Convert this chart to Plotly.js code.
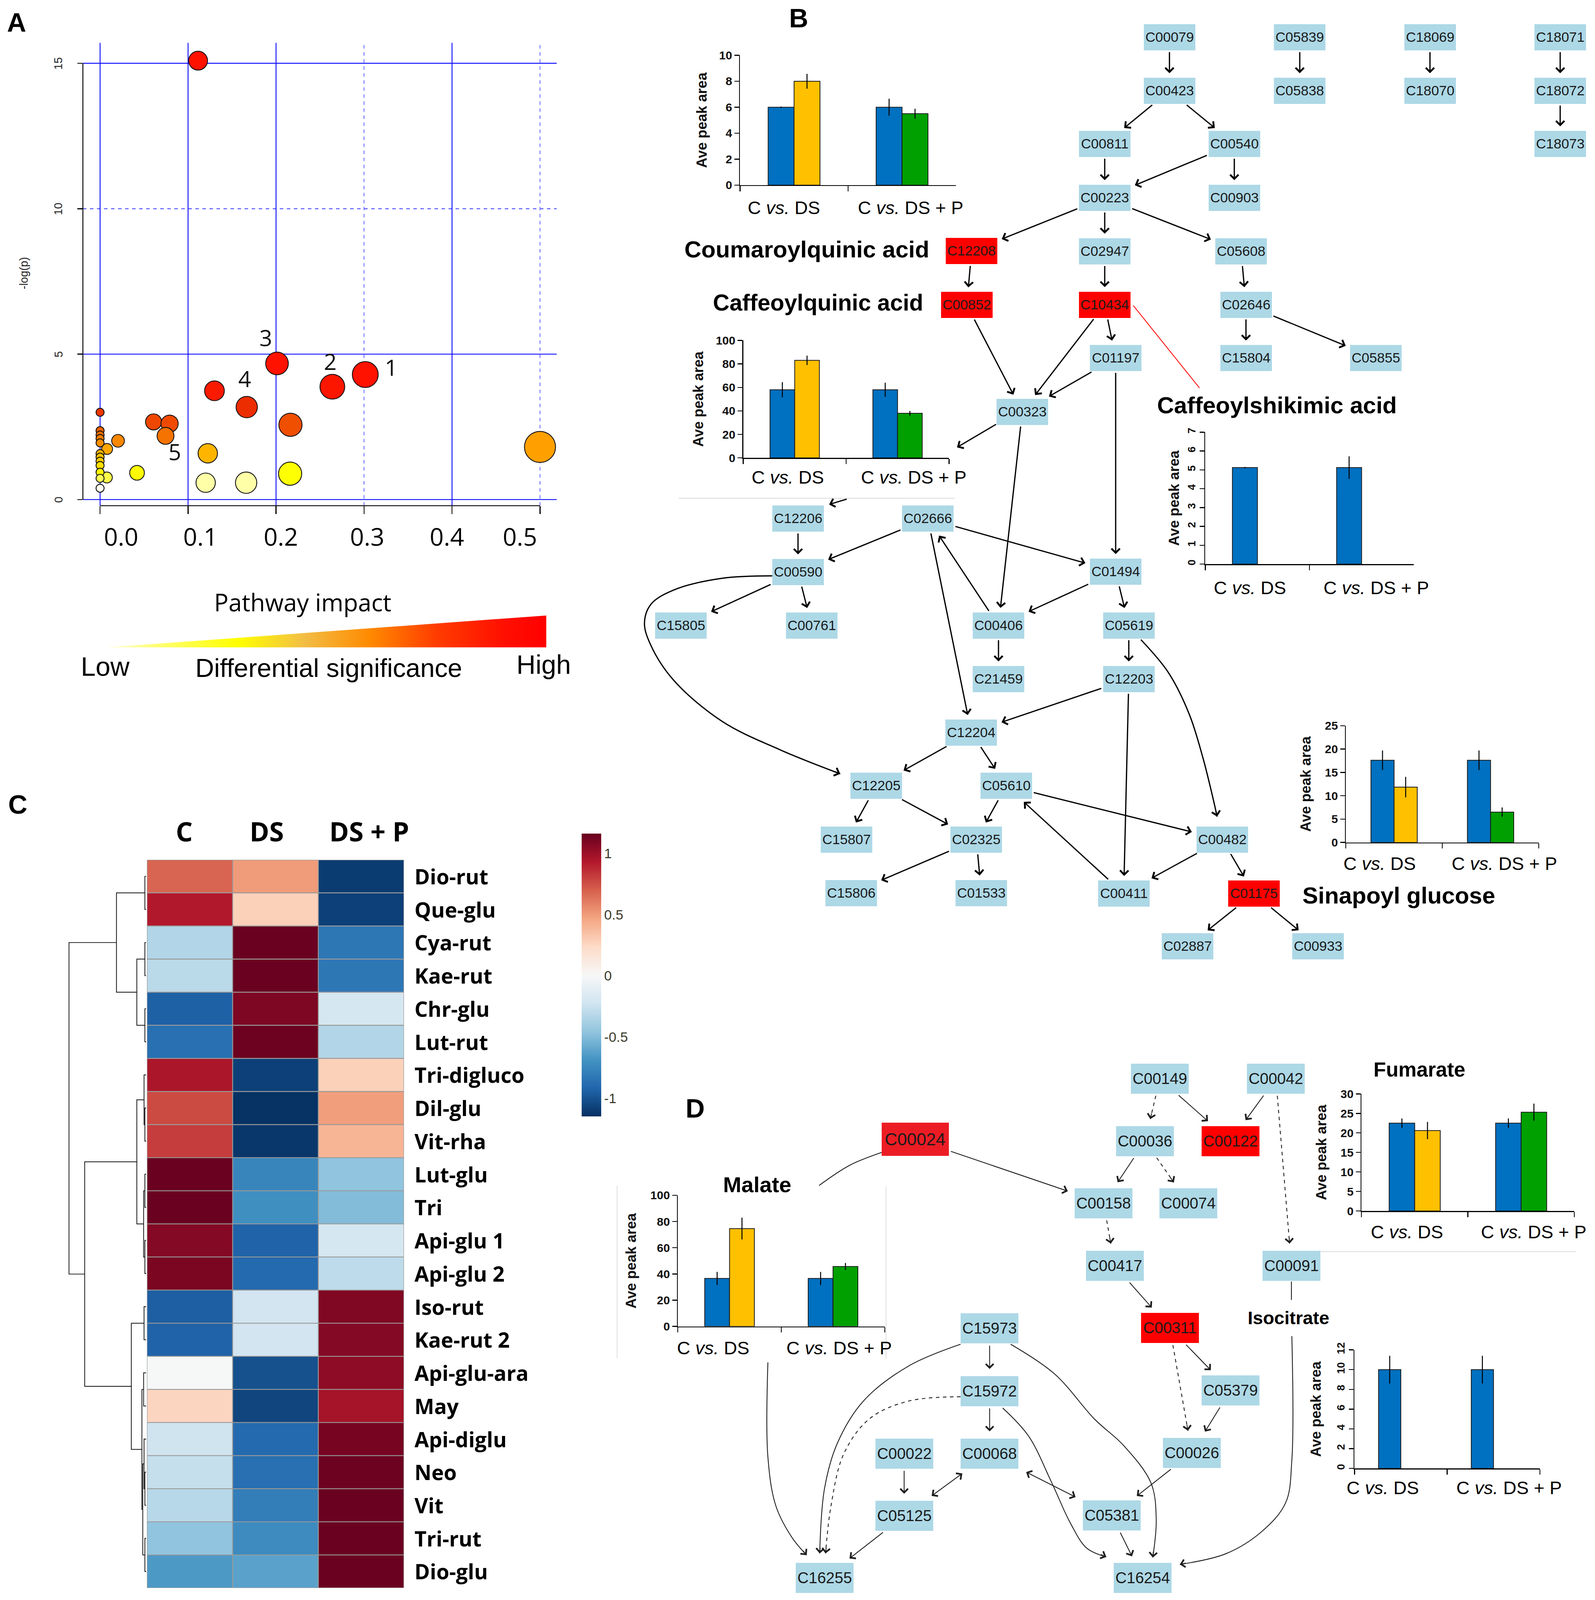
<!DOCTYPE html>
<html>
<head>
<meta charset="utf-8">
<script src="https://cdn.plot.ly/plotly-3.0.1.min.js"></script>
<style>
html,body{margin:0;padding:0;background:#ffffff;overflow:hidden;}
#fig{width:100vw;height:100vh;}
</style>
</head>
<body>
<div id="fig"></div>
<script>
// ======================= DATA =======================
// Panel A : pathway impact vs -log(p)
const impactValues = [0.1114,0.2011,0.264,0.3014,0.130,0.1667,0.2164,0.0608,0.079,0.0744,0.1224,0.5,0.0204,0.008,0.042,0.120,0.166,0.216,0,0.0077,0,0,0,0,0,0,0,0,0,0,0];
const negLogPValues = [15.09,4.68,3.88,4.30,3.74,3.18,2.57,2.67,2.61,2.19,1.59,1.81,2.02,1.74,0.92,0.58,0.58,0.89,0.39,0.76,3.0,2.37,2.22,2.1,1.95,1.58,1.46,1.32,1.17,0.94,0.73];
const pointLabels = ['1','2','3','4','5'];
const pointLabelIdx = [3,2,1,5,9];
const impactTickValues = [0,0.1,0.2,0.3,0.4,0.5];
const impactTickLabels = ['0.0','0.1','0.2','0.3','0.4','0.5'];
const logpTickValues = [0,5,10,15];
const logpTickLabels = ['0','5','10','15'];

// Panel C : heatmap
const heatRows = ['Dio-rut','Que-glu','Cya-rut','Kae-rut','Chr-glu','Lut-rut','Tri-digluco','Dil-glu','Vit-rha','Lut-glu','Tri','Api-glu 1','Api-glu 2','Iso-rut','Kae-rut 2','Api-glu-ara','May','Api-diglu','Neo','Vit','Tri-rut','Dio-glu'];
const heatCols = ['C','DS','DS + P'];
const heatZ = [
 [0.68,0.50,-1.10],[0.93,0.28,-1.08],[-0.34,1.15,-0.83],[-0.31,1.15,-0.83],[-0.94,1.09,-0.20],[-0.87,1.14,-0.34],
 [0.95,-1.08,0.28],[0.77,-1.14,0.49],[0.81,-1.12,0.40],[1.15,-0.76,-0.46],[1.15,-0.71,-0.50],[1.07,-0.93,-0.20],
 [1.10,-0.90,-0.30],[-0.95,-0.22,1.08],[-0.93,-0.22,1.07],[0.00,-1.01,1.04],[0.26,-1.06,0.97],[-0.23,-0.90,1.11],
 [-0.27,-0.87,1.14],[-0.32,-0.80,1.15],[-0.46,-0.73,1.15],[-0.66,-0.62,1.15]
];
const heatTickValues = [-1,-0.5,0,0.5,1];
const heatTickLabels = ['-1','-0.5','0','0.5','1'];
// hierarchical clustering merges: [childA, childB, height]; leaves 0..21, new nodes 22..
const dendroMerges = [
 [0,1,3],[2,3,3],[4,5,3],[23,24,22],[22,25,70],[7,8,3],[6,27,5],[9,10,3],[11,12,3],[29,30,6],[28,31,22],
 [13,14,5],[15,16,6],[18,19,3],[17,35,5],[20,21,3],[36,37,8],[34,38,10],[33,39,35],[32,40,145],[26,41,182]
];

// Bar charts (Ave peak area)
const barCategories = ['C <i>vs.</i> DS','C <i>vs.</i> DS + P'];
const coumaroylC = [6.0,6.0],  coumaroylCErr = [0.05,0.65], coumaroylT = [8.0,5.5],  coumaroylTErr = [0.57,0.38];
const caffeoylqC = [58,58],    caffeoylqCErr = [6.5,6.0],   caffeoylqT = [83,38],    caffeoylqTErr = [4,2];
const caffeoylsC = [5.12,5.12],caffeoylsCErr = [0.04,0.6],  caffeoylsT = [null,null],caffeoylsTErr = [0,0];
const sinapoylC = [17.6,17.6], sinapoylCErr = [2.1,2.1],    sinapoylT = [11.85,6.5], sinapoylTErr = [2.2,1.0];
const malateC = [36.6,36.6],   malateCErr = [5,5],          malateT = [74.6,45.7],   malateTErr = [8.3,2.7];
const fumarateC = [22.5,22.5], fumarateCErr = [1.2,1.2],    fumarateT = [20.6,25.3], fumarateTErr = [2.2,2.2];
const isocitrateC = [10,10],   isocitrateCErr = [1.4,1.4],  isocitrateT = [null,null], isocitrateTErr = [0,0];

// Pathway topology (KEGG compound IDs)
const highlightedB = ['C12208','C00852','C10434','C01175'];
const edgesB = [
 ['C00079','C00423'],['C05839','C05838'],['C18069','C18070'],['C18071','C18072'],['C18072','C18073'],
 ['C00423','C00811'],['C00423','C00540'],['C00811','C00223'],['C00540','C00223'],['C00540','C00903'],
 ['C00223','C12208'],['C00223','C02947'],['C00223','C05608'],['C12208','C00852'],['C02947','C10434'],
 ['C05608','C02646'],['C02646','C15804'],['C02646','C05855'],['C10434','C01197'],['C10434','C00323'],
 ['C00852','C00323'],['C01197','C00323'],['C00323','C00406'],['C01197','C01494'],
 ['C12206','C00590'],['C02666','C00590'],['C02666','C01494'],['C02666','C12204'],['C00406','C02666'],
 ['C01494','C00406'],['C01494','C05619'],['C00590','C15805'],['C00590','C00761'],['C00406','C21459'],
 ['C05619','C12203'],['C12203','C12204'],['C12203','C00411'],['C12204','C12205'],['C12204','C05610'],
 ['C12205','C15807'],['C12205','C02325'],['C05610','C02325'],['C05610','C00482'],['C00411','C05610'],
 ['C00482','C00411'],['C00482','C01175'],['C02325','C15806'],['C02325','C01533'],['C01175','C02887'],['C01175','C00933']
];
const highlightedD = ['C00024','C00122','C00311'];
const edgesD = [
 ['C00149','C00036',1],['C00149','C00122',0],['C00042','C00122',0],['C00042','C00091',1],
 ['C00036','C00158',0],['C00036','C00074',1],['C00158','C00417',1],['C00417','C00311',0],
 ['C00311','C05379',0],['C00311','C00026',1],['C05379','C00026',0],['C00026','C05381',0],
 ['C05381','C16254',0],['C15973','C15972',0],['C15972','C00068',0],['C00022','C05125',0],
 ['C05125','C16255',0],['C00024','C00158',0]
];
const biEdgesD = [['C05125','C00068'],['C00068','C05381']];

// ======================= LAYOUT HELPERS =======================
const VW = window.innerWidth > 200 ? window.innerWidth : 4083;
const VH = window.innerHeight > 200 ? window.innerHeight : 4188;
const DW = 1530, DH = 4188*1530/4083;   // reference "display" coordinate frame
const Kx = VW/DW, Ky = VH/DH, K = Math.min(Kx,Ky);
const fs = v => v*K;
const fx = v => v/DW;
const fy = v => 1 - v/DH;
const SANS = 'Liberation Sans, Arial, sans-serif';
const OPEN = 'Open Sans, Liberation Sans, sans-serif';
const OV = {xref:'x11', yref:'y11'};

const nodeLayoutB = {
 C00079:[1121.8,36.7], C05839:[1246.8,36.7], C18069:[1371.7,36.7], C18071:[1496.6,36.7],
 C00423:[1121.8,89.1], C05838:[1246.8,89.1], C18070:[1371.7,89.1], C18072:[1496.6,89.1],
 C00811:[1059.7,141.2], C00540:[1184,141.2], C18073:[1496.6,141.2],
 C00223:[1059.7,194], C00903:[1184,194],
 C12208:[932,246.3], C02947:[1059.7,246.5], C05608:[1190.5,246.5],
 C00852:[927.4,299.1], C10434:[1059.7,298.9], C02646:[1195.2,298.9],
 C01197:[1070.2,351.3], C15804:[1195.2,351.3], C05855:[1319.8,351.3],
 C00323:[980.6,403.9],
 C12206:[765.5,508.8], C02666:[890.1,508.8],
 C00590:[765.5,561], C01494:[1070.2,560.7],
 C15805:[653.3,613.5], C00761:[778.5,613.5], C00406:[957.8,613.5], C05619:[1082.8,613.5],
 C21459:[957.8,666], C12203:[1082.8,666],
 C12204:[931.7,718.5],
 C12205:[840.6,770.7], C05610:[965.2,770.7],
 C15807:[812,823.5], C02325:[936.6,823.5], C00482:[1172.4,823.4],
 C15806:[816.4,876], C01533:[941.3,876], C00411:[1077.9,876.4], C01175:[1202.8,876.4],
 C02887:[1139.3,928.1], C00933:[1264.3,928.1]
};
const nodeLayoutD = {
 C00024:[877.9,1117.4], C00149:[1112.6,1058], C00042:[1223.9,1058],
 C00036:[1098.4,1119.2], C00122:[1180.3,1119.2],
 C00158:[1058.7,1180.3], C00074:[1140,1180.3],
 C00417:[1069.3,1241.5], C00091:[1238.8,1241.5],
 C00311:[1122.2,1302.6], C15973:[949.3,1303],
 C15972:[949.3,1364.5], C05379:[1180.3,1363.8],
 C00022:[867.3,1425.7], C00068:[949.3,1425.7], C00026:[1143.3,1425],
 C05125:[867.3,1486.9], C05381:[1066.6,1486.5],
 C16255:[790.9,1547.7], C16254:[1096,1547.6]
};
const boxB = [24.75,12.75], boxD = [27.75,14.75], boxBig = [32.15,16.3];
const styleB = {w:3.2, size:1.3, c:'#000000'};
const styleD = {w:2.2, size:1.75, c:'#1e1e1e'};

function arrow(x0,y0,x1,y1,st,both){
  const a = {xref:'x11',yref:'y11',axref:'x11',ayref:'y11',x:x1,y:y1,ax:x0,ay:y0,text:'',showarrow:true,
    arrowhead:4,arrowsize:st.size,arrowwidth:st.w,arrowcolor:st.c,standoff:0,startstandoff:0,font:{size:1},borderpad:0};
  if(both){a.arrowside='end+start'; a.startarrowhead=4; a.startarrowsize=st.size;}
  return a;
}
function trimSeg(p,q,bp,bq,g0,g1){
  const dx=q[0]-p[0], dy=q[1]-p[1], L=Math.hypot(dx,dy);
  const tb = b => Math.min(dx ? b[0]/Math.abs(dx) : Infinity, dy ? b[1]/Math.abs(dy) : Infinity);
  const t0 = tb(bp)+g0/L, t1 = tb(bq)+g1/L;
  return [p[0]+dx*t0, p[1]+dy*t0, q[0]-dx*t1, q[1]-dy*t1];
}
function curveTrace(pts,st,dash){
  return {type:'scatter',mode:'lines',xaxis:'x11',yaxis:'y11',x:pts.map(p=>p[0]),y:pts.map(p=>p[1]),
    line:{shape:'spline',smoothing:1,color:st.c,width:st.w,dash:dash||'solid'},hoverinfo:'skip'};
}
function curveHead(pts,st){
  const n=pts.length, [x1,y1]=pts[n-1], [x0,y0]=pts[n-2];
  const L=Math.hypot(x1-x0,y1-y0), k=6/L;
  return arrow(x1-(x1-x0)*k, y1-(y1-y0)*k, x1, y1, st);
}
function textAnn(t,x,y,size,opts){
  return Object.assign({xref:'x11',yref:'y11',x:x,y:y,text:t,showarrow:false,xanchor:'center',yanchor:'middle',
    font:{family:SANS,size:fs(size),color:'#000'}},opts||{});
}

const traces = [], annotations = [], shapes = [];

// ======================= PANEL A =======================
const heatA = [[0,'#ffffff'],[0.063,'#ffffa8'],[0.15,'#ffff00'],[0.26,'#ffd000'],[0.40,'#ffa000'],
               [0.51,'#f47000'],[0.62,'#f04a00'],[0.78,'#ec2c00'],[1,'#ff1200']];
traces.push({type:'scatter',mode:'markers',x:impactValues,y:negLogPValues,xaxis:'x',yaxis:'y',cliponaxis:false,
  marker:{size:impactValues.map(v=>fs(7.9+31.9*Math.sqrt(v))),color:negLogPValues,colorscale:heatA,cmin:0.35,cmax:4,
  showscale:false,line:{color:'#111',width:2.2},opacity:1},hoverinfo:'skip'});
const aXr = [-0.01955,0.51896], aYr = [-0.2103,15.703];
logpTickValues.forEach(v=>{
  const d = v===10;
  shapes.push({type:'line',layer:'below',xref:'x',yref:'y',x0:aXr[0],x1:aXr[1],y0:v,y1:v,
    line:{color:d?'#4848ff':'#1010ff',width:fs(d?0.85:0.9),dash:d?'dash':'solid'}});
});
impactTickValues.forEach(v=>{
  const d = (v===0.3||v===0.5);
  shapes.push({type:'line',layer:'below',xref:'x',yref:'y',x0:v,x1:v,y0:aYr[0],y1:aYr[1],
    line:{color:d?'#7070ff':'#1010ff',width:fs(d?0.85:0.9),dash:d?'dash':'solid'}});
});
shapes.push(Object.assign({type:'line',x0:79.5,x1:79.5,y0:62,y1:490,line:{color:'#000',width:fs(0.9)}},OV));
shapes.push(Object.assign({type:'line',x0:96,x1:518,y0:496,y1:496,line:{color:'#000',width:fs(0.9)}},OV));
const impactLabelX = [116,192.3,269.4,352.2,428.8,498.8];
impactTickLabels.forEach((t,i)=>annotations.push(textAnn(t,impactLabelX[i],526,24,{font:{family:OPEN,size:fs(24),color:'#000'}})));
logpTickLabels.forEach((t,i)=>annotations.push({xref:'x11',yref:'y',x:56,y:logpTickValues[i],text:t,showarrow:false,
  textangle:-90,xanchor:'center',yanchor:'middle',font:{family:SANS,size:fs(11),color:'#222'}}));
annotations.push(textAnn('-log(p)',23,268,11,{textangle:-90,font:{family:SANS,size:fs(11),color:'#222'}}));
const labelShift = [[25.6,7],[-2,25],[-11,25.5],[-2,28],[9,-15.5]];
pointLabels.forEach((t,i)=>{
  const k = pointLabelIdx[i];
  annotations.push({xref:'x',yref:'y',x:impactValues[k],y:negLogPValues[k],text:t,showarrow:false,
    xshift:fs(labelShift[i][0]),yshift:fs(labelShift[i][1]),font:{family:OPEN,size:fs(22),color:'#111'}});
});
traces.push({type:'scatter',mode:'lines',xaxis:'x11',yaxis:'y11',x:[102,524,524,102],y:[635,603.7,635,635],
  fill:'toself',line:{width:0,color:'rgba(0,0,0,0)'},hoverinfo:'skip',
  fillgradient:{type:'horizontal',colorscale:[[0,'#ffffd8'],[0.12,'#ffff70'],[0.3,'#ffff00'],[0.45,'#f2bd45'],
    [0.6,'#ff8a00'],[0.75,'#ff3c00'],[0.9,'#ff1000'],[1,'#ff0000']]}});
annotations.push(textAnn('Pathway impact',290.5,590.5,23.5,{font:{family:OPEN,size:fs(23.5),color:'#000'}}));
annotations.push(textAnn('Low',101,654,26));
annotations.push(textAnn('Differential significance',315.5,655,25.5));
annotations.push(textAnn('High',521.6,652,26));

// ======================= PANEL C =======================
const heatScale = [[0,'#053061'],[0.1,'#2166ac'],[0.2,'#4393c3'],[0.3,'#92c5de'],[0.4,'#d1e5f0'],[0.5,'#f7f7f7'],
                   [0.6,'#fddbc7'],[0.7,'#f4a582'],[0.8,'#d6604d'],[0.9,'#b2182b'],[1,'#67001f']];
traces.push({type:'heatmap',z:heatZ,x:[0,1,2],y:heatRows.map((r,i)=>i),xaxis:'x2',yaxis:'y2',
  colorscale:heatScale,zmin:-1.15,zmax:1.16,hoverinfo:'skip',
  colorbar:{x:fx(557.8),xanchor:'left',y:fy(817.8),yanchor:'top',len:(1095.2-817.8)/DH,lenmode:'fraction',
    thickness:fs(19.1),thicknessmode:'pixels',outlinewidth:0,xpad:0,ypad:0,ticks:'',
    tickvals:heatTickValues,ticktext:heatTickLabels,tickfont:{family:SANS,size:fs(13.5),color:'#3a3a2a'}}});
for(let i=-1;i<=heatRows.length-1;i++){
  shapes.push({type:'line',xref:'x2',yref:'y2',x0:-0.5,x1:2.5,y0:i+0.5,y1:i+0.5,line:{color:'#9a9a9a',width:fs(0.9)}});
}
for(let j=-1;j<=2;j++){
  shapes.push({type:'line',xref:'x2',yref:'y2',x0:j+0.5,x1:j+0.5,y0:-0.5,y1:21.5,line:{color:'#9a9a9a',width:fs(0.9)}});
}
(function(){
  const n = heatRows.length, pos=[], hgt=[], xs=[], ys=[];
  for(let i=0;i<n;i++){pos[i]=i;hgt[i]=0;}
  dendroMerges.forEach((m,k)=>{
    const [a,b,h]=m, id=n+k;
    xs.push(hgt[a],h,h,hgt[b],null); ys.push(pos[a],pos[a],pos[b],pos[b],null);
    pos[id]=(pos[a]+pos[b])/2; hgt[id]=h;
  });
  traces.push({type:'scatter',mode:'lines',x:xs,y:ys,xaxis:'x3',yaxis:'y2',line:{color:'#111',width:fs(0.75)},hoverinfo:'skip'});
})();
heatRows.forEach((r,i)=>annotations.push({xref:'x11',yref:'y2',x:397,y:i,text:r,showarrow:false,xanchor:'left',yanchor:'middle',
  font:{family:OPEN,size:fs(20.5),color:'#000',weight:700}}));
const headerX = [176.7,256,354];
heatCols.forEach((c,i)=>annotations.push(textAnn(c,headerX[i],815.2,26,{font:{family:OPEN,size:fs(26),color:'#000',weight:700}})));

// ======================= BAR CHARTS =======================
const tColors = ['#ffc000','#00a000'];
const barCharts = [
 {ax:4, box:[709.9,917.1,54.2,181.6],  ymax:10,  dt:2,  c:coumaroylC, ce:coumaroylCErr, t:coumaroylT, te:coumaroylTErr, rot:false, so:20, lx:[752,873.5], ly:203.5},
 {ax:5, box:[713,910.3,333.9,449.1],   ymax:100, dt:20, c:caffeoylqC, ce:caffeoylqCErr, t:caffeoylqT, te:caffeoylqTErr, rot:false, so:21, lx:[755.6,876.4], ly:468},
 {ax:6, box:[1156.2,1356.1,423.9,553.3],ymax:7,  dt:1,  c:caffeoylsC, ce:caffeoylsCErr, t:caffeoylsT, te:caffeoylsTErr, rot:true,  so:6,  lx:[1199,1320], ly:576.5},
 {ax:7, box:[1291,1476.1,711.8,826.3], ymax:25,  dt:5,  c:sinapoylC,  ce:sinapoylCErr,  t:sinapoylT,  te:sinapoylTErr,  rot:false, so:25, lx:[1323.4,1443], ly:847},
 {ax:8, box:[650.2,848.7,1172.4,1301], ymax:100, dt:20, c:malateC,    ce:malateCErr,    t:malateT,    te:malateTErr,    rot:false, so:25, lx:[684.2,804.9], ly:1322},
 {ax:9, box:[1306,1510.2,1072.9,1187.8],ymax:30, dt:5,  c:fumarateC,  ce:fumarateCErr,  t:fumarateT,  te:fumarateTErr,  rot:false, so:25, lx:[1349.5,1471.2], ly:1208.3},
 {ax:10,box:[1299.3,1477.1,1324,1440.3],ymax:12, dt:2,  c:isocitrateC,ce:isocitrateCErr,t:isocitrateT,te:isocitrateTErr,rot:true,  so:25, lx:[1326.4,1447.4], ly:1459}
];
const axisExtra = {};
barCharts.forEach(b=>{
  const xa='x'+b.ax, ya='y'+b.ax;
  traces.push({type:'bar',x:barCategories,y:b.c,xaxis:xa,yaxis:ya,marker:{color:'#0070c0',line:{color:'#1a1a1a',width:2}},
    error_y:{type:'data',array:b.ce,visible:true,color:'#000',thickness:2.5,width:0},hoverinfo:'skip'});
  traces.push({type:'bar',x:barCategories,y:b.t,xaxis:xa,yaxis:ya,marker:{color:tColors,line:{color:'#1a1a1a',width:2}},
    error_y:{type:'data',array:b.te,visible:true,color:'#000',thickness:2.5,width:0},hoverinfo:'skip'});
  axisExtra['xaxis'+b.ax] = {domain:[fx(b.box[0]),fx(b.box[1])],anchor:ya,type:'category',range:[-0.5,1.5],
    showline:true,linecolor:'#000',linewidth:2.5,ticks:'outside',tickson:'boundaries',ticklen:fs(5),tickwidth:2.5,tickcolor:'#000',
    showticklabels:false,showgrid:false,zeroline:false};
  axisExtra['yaxis'+b.ax] = {domain:[fy(b.box[3]),fy(b.box[2])],anchor:xa,range:[0,b.ymax],dtick:b.dt,tick0:0,
    showline:true,linecolor:'#000',linewidth:2.5,ticks:'outside',ticklen:fs(4.5),tickwidth:2.5,tickcolor:'#000',
    tickangle:b.rot?-90:0,ticklabelstandoff:fs(2.5),tickfont:{family:SANS,size:fs(b.rot?10.5:11.5),color:'#111',weight:700},
    showgrid:false,zeroline:false,
    title:{text:'Ave peak area',standoff:b.so,font:{family:SANS,size:fs(14),color:'#111',weight:700}}};
  barCategories.forEach((c,i)=>annotations.push(textAnn(c,b.lx[i],b.ly,18)));
});

// ======================= PANEL B : pathway =======================
edgesB.forEach(e=>{
  const s = trimSeg(nodeLayoutB[e[0]],nodeLayoutB[e[1]],boxB,boxB,1.5,4.5);
  annotations.push(arrow(s[0],s[1],s[2],s[3],styleB));
});
annotations.push(arrow(955.6,416.1,918,438.8,styleB));
annotations.push(arrow(812.4,489.5,795.3,494.8,styleB));
const curveB1 = [[741.3,564.8],[692.8,567.2],[646.2,578.7],[624.4,592.7],[618.2,611.3],[624.4,633.1],[646.2,667.2],[692.8,707.6],[748.7,735.6],[806,759]];
const curveB2 = [[1094.4,627.4],[1120.8,659.7],[1140.7,700.3],[1153.9,743.3],[1163.8,784],[1167.5,801]];
[curveB1,curveB2].forEach(c=>{traces.push(curveTrace(c,styleB)); annotations.push(curveHead(c,styleB));});
shapes.push(Object.assign({type:'line',x0:1087.1,y0:299.7,x1:1150.6,y1:380.5,line:{color:'#ff0000',width:fs(0.8)}},OV));
shapes.push(Object.assign({type:'line',x0:651,y0:488.7,x1:916,y1:488.7,line:{color:'#e6e6e6',width:3}},OV));
shapes.push(Object.assign({type:'line',x0:592,y0:1163,x1:592,y1:1332,line:{color:'#e8e8e8',width:3}},OV));
shapes.push(Object.assign({type:'line',x0:849.9,y0:1164,x1:849.9,y1:1333,line:{color:'#e8e8e8',width:3}},OV));
shapes.push(Object.assign({type:'line',x0:1255,y0:1227.6,x1:1512,y1:1227.6,line:{color:'#e6e6e6',width:3}},OV));

// ======================= PANEL D : pathway =======================
const boxOf = id => highlightedD.indexOf(id)===0 ? boxBig : boxD;
edgesD.forEach(e=>{
  const s = trimSeg(nodeLayoutD[e[0]],nodeLayoutD[e[1]],boxOf(e[0]),boxOf(e[1]),2,7);
  if(e[2]){
    shapes.push(Object.assign({type:'line',x0:s[0],y0:s[1],x1:s[2],y1:s[3],line:{color:styleD.c,width:styleD.w,dash:'dash'}},OV));
    const L=Math.hypot(s[2]-s[0],s[3]-s[1]), k=6/L;
    annotations.push(arrow(s[2]-(s[2]-s[0])*k,s[3]-(s[3]-s[1])*k,s[2],s[3],styleD));
  } else {
    annotations.push(arrow(s[0],s[1],s[2],s[3],styleD));
  }
});
biEdgesD.forEach(e=>{
  const s = trimSeg(nodeLayoutD[e[0]],nodeLayoutD[e[1]],boxD,boxD,8,8);
  annotations.push(arrow(s[0],s[1],s[2],s[3],styleD,true));
});
const curveD1a = [[846.2,1130.2],[815,1143],[785.7,1162.8]];
const curveD1b = [[736.6,1336.3],[736.6,1429],[744.3,1477.2],[759.8,1508.2],[773.8,1525.4]];
const curveD2 = [[921.4,1318.5],[871.7,1339.8],[828.2,1374.2],[803.3,1415.4],[790.9,1460.1],[786.3,1523.7]];
const curveD3 = [[921.4,1370],[871.7,1374.2],[834.4,1391.3],[809.5,1425.7],[797.1,1477.2],[791.9,1523.7]];
const curveD4 = [[961.8,1381],[986.6,1408.5],[1008.4,1453.2],[1027,1494.4],[1042.5,1518.5],[1061.2,1527.1]];
const curveD5 = [[969.5,1318.5],[1011.8,1347.8],[1050,1392],[1078,1418],[1104.1,1454.6],[1109.1,1490.2],[1105.8,1527.7]];
const curveD6 = [[1238.8,1257],[1238.8,1275]];
const curveD7 = [[1239.2,1310.5],[1239.2,1432],[1233.2,1474.1],[1210,1502.5],[1176.3,1523.8],[1131.7,1534.5]];
traces.push(curveTrace(curveD1a,styleD));
traces.push(curveTrace(curveD6,styleD));
[curveD1b,curveD2,curveD4,curveD5,curveD7].forEach(c=>{traces.push(curveTrace(c,styleD)); annotations.push(curveHead(c,styleD));});
traces.push(curveTrace(curveD3,styleD,'dash')); annotations.push(curveHead(curveD3,styleD));

// nodes (drawn after arrows)
Object.keys(nodeLayoutB).forEach(id=>{
  const p=nodeLayoutB[id], red=highlightedB.indexOf(id)>=0;
  annotations.push({xref:'x11',yref:'y11',x:p[0],y:p[1],text:id,showarrow:false,bgcolor:red?'#ff0000':'#add8e6',
    width:boxB[0]*2*Kx,height:boxB[1]*2*Ky,borderpad:0,borderwidth:0,align:'center',valign:'middle',
    font:{family:SANS,size:fs(13.6),color:'#1a1a1a'}});
});
Object.keys(nodeLayoutD).forEach(id=>{
  const p=nodeLayoutD[id], hi=highlightedD.indexOf(id), b=boxOf(id);
  annotations.push({xref:'x11',yref:'y11',x:p[0],y:p[1],text:id,showarrow:false,
    bgcolor:hi===0?'#ec1c24':(hi>0?'#ff0000':'#add8e6'),
    width:b[0]*2*Kx,height:b[1]*2*Ky,borderpad:0,borderwidth:0,align:'center',valign:'middle',
    font:{family:SANS,size:fs(hi===0?17:15.3),color:'#1a1a1a'}});
});

// compound / panel labels
const BOLD = (s)=>({font:{family:SANS,size:fs(s),color:'#000',weight:700}});
annotations.push(textAnn('Coumaroylquinic acid',774,244.5,23,BOLD(23)));
annotations.push(textAnn('Caffeoylquinic acid',784.5,296.8,22.5,BOLD(22.5)));
annotations.push(textAnn('Caffeoylshikimic acid',1225,397.5,23,BOLD(23)));
annotations.push(textAnn('Sinapoyl glucose',1342,878.4,23,BOLD(23)));
annotations.push(textAnn('Malate',726.3,1161.8,21.5,BOLD(21.5)));
annotations.push(textAnn('Fumarate',1361.5,1049.1,20,BOLD(20)));
annotations.push(textAnn('Isocitrate',1235.9,1292.7,18,BOLD(18)));
[['A',16,22],['B',766,18],['C',17,789],['D',667,1087]].forEach(l=>annotations.push(textAnn(l[0],l[1],l[2],26,BOLD(26))));

// ======================= FIGURE LAYOUT =======================
const layout = Object.assign({
  width:VW,height:VH,margin:{l:0,r:0,t:0,b:0,pad:0},paper_bgcolor:'#ffffff',plot_bgcolor:'rgba(0,0,0,0)',
  showlegend:false,font:{family:SANS,color:'#000'},barmode:'group',bargap:0.52,bargroupgap:0,
  xaxis:{domain:[fx(79.5),fx(534)],range:aXr,anchor:'y',tickvals:impactTickValues,ticks:'outside',ticklen:fs(8),
    tickwidth:2.5,tickcolor:'#000',showticklabels:false,showgrid:false,zeroline:false,showline:false},
  yaxis:{domain:[fy(496),fy(42)],range:aYr,anchor:'x',tickvals:logpTickValues,ticks:'outside',ticklen:fs(5),
    tickwidth:2.5,tickcolor:'#000',showticklabels:false,showgrid:false,zeroline:false,showline:false},
  xaxis2:{domain:[fx(141),fx(387.5)],range:[-0.5,2.5],anchor:'y2',visible:false},
  yaxis2:{domain:[fy(1557.6),fy(843.3)],range:[21.5,-0.5],anchor:'x2',visible:false},
  xaxis3:{domain:[fx(60),fx(140.2)],range:[197.2,0],anchor:'y2',visible:false},
  xaxis11:{domain:[0,1],range:[0,DW],anchor:'y11',visible:false},
  yaxis11:{domain:[0,1],range:[DH,0],anchor:'x11',visible:false},
  shapes:shapes,annotations:annotations
}, axisExtra);

Plotly.newPlot('fig',traces,layout,{displayModeBar:false,staticPlot:true});
</script>
</body>
</html>
